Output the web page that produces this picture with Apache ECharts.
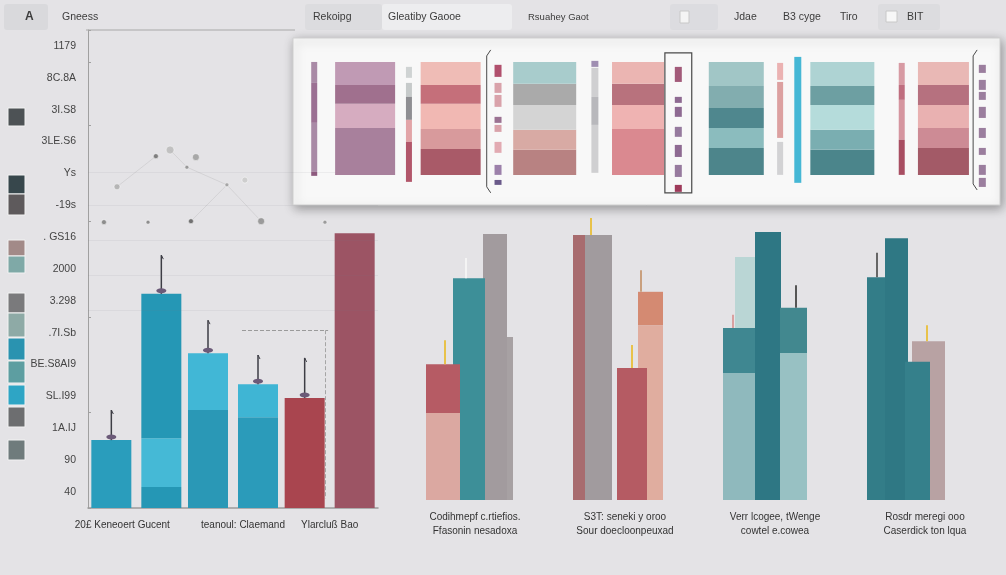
<!DOCTYPE html>
<html><head><meta charset="utf-8">
<script src="https://cdn.jsdelivr.net/npm/echarts@6/dist/echarts.min.js"></script>
<style>html,body{margin:0;padding:0;background:#e4e3e6;}#c{width:1006px;height:575px;}</style>
</head><body><div id="c"></div><script>
// ---------------- DATA ----------------
// left group (bars)
const leftCategories = ['20£ Keneoert Gucent', 'teanoul: Claemand', 'Ylarcluß Bao'];
const leftAxisLabels = ['40', '90', '1A.IJ', 'SL.I99', 'BE.S8AI9', '.7I.Sb', '3.298', '2000', '. GS16', '-19s', 'Ys', '3LE.S6', '3I.S8', '8C.8A', '1179'];
const leftA_bottom = [14.2, 20.5, 23.0];
const leftA_top = [0, 11.9, 0];
const leftB_bottom = [4.4, 19.0, 57.5];
const leftB_mid = [10.2, 6.9, 0];
const leftB_top = [30.2, 0, 0];
const leftWickCat = [0, 0, 1, 1, 2];
const leftWickSlot = [0, 1, 0, 1, 0];
const leftWickBase = [14.2, 44.8, 32.4, 25.9, 23.0];
const leftWickTop = [20.5, 52.9, 39.3, 32.0, 31.4];
// scatter dots in the upper-left
const dotX = [23.4, 28.3, 37.2, 34.1, 10.0, 47.9, 54.1, 5.5, 20.7, 35.5, 59.7, 81.7];
const dotY = [73.6, 74.9, 73.4, 71.3, 67.2, 67.6, 68.6, 59.8, 59.8, 60.0, 60.0, 59.8];
const dotLinks = [[1, 3], [3, 5], [5, 10], [5, 9], [4, 0]];
const gridLineValues = [41.4, 48.7, 56.1, 63.4, 70.3];
// right groups
const rightCategories = ['Codihmepf c.rtiefios.\nFfasonin nesadoxa', 'S3T: seneki y oroo\nSour doecloonpeuxad', 'Verr lcogee, tWenge\ncowtel e.cowea', 'Rosdr meregi ooo\nCaserdick ton lqua'];
const rightBarGroup = [0, 0, 0, 0, 1, 1, 1, 1, 2, 2, 2, 2, 3, 3, 3, 3];
const rightBarValue = [34.7, 56.6, 47.2, 28.9, 56.4, 56.4, 44.3, 28.1, 51.7, 36.6, 57.0, 40.9, 33.8, 47.4, 55.7, 29.4];
const rightBarCap = [0, 0, 0, 18.5, 0, 0, 37.2, 0, 0, 27.0, 0, 31.3, 0, 0, 0, 0];
const rightWickBar = [3, 2, 5, 7, 6, 11, 9, 13, 12];
const rightWickTop = [34.0, 51.5, 60.0, 33.0, 48.9, 45.7, 39.4, 52.6, 37.2];
// inset panel: wide stacked columns (segment heights bottom -> top)
const insetWideX = [10.2, 22.3, 35.6, 48.8, 62.7, 77.7, 92.0];
const insetSeg1 = [34.3, 19.0, 18.3, 33.6, 19.7, 18.3, 19.7];
const insetSeg2 = [17.6, 14.6, 14.6, 17.5, 14.6, 14.6, 14.6];
const insetSeg3 = [13.8, 18.3, 18.2, 15.4, 14.6, 18.2, 16.8];
const insetSeg4 = [16.8, 13.8, 15.4, 16.0, 16.1, 13.9, 14.6];
const insetSeg5 = [0, 16.8, 16.0, 0, 17.5, 17.5, 16.8];
// inset thin columns: [bottom, top] pieces
const insetThinX = [3.0, 16.4, 29.0, 42.7, 54.5, 68.9, 71.4, 86.1, 97.5];
const thinT1 = [[67.2, 82.5], [38.0, 67.2], [2.2, 38.0], [-0.7, 2.2]];
const thinT2 = [[70.9, 78.9], [57.0, 67.2], [40.2, 57.0], [24.1, 40.2], [-5.1, 24.1]];
const thinS1 = [[71.6, 80.4], [59.9, 67.2], [49.7, 58.4], [38.0, 42.4], [31.4, 36.5], [16.1, 24.1], [0, 7.3], [-7.3, -3.7]];
const thinT3 = [[78.9, 83.3], [57.0, 78.2], [36.5, 57.0], [1.5, 36.5]];
const thinS2 = [[67.9, 78.9], [52.6, 57.0], [42.4, 49.7], [27.8, 35.1], [13.1, 21.9], [-1.5, 7.3], [-12.4, -7.3]];
const thinT4 = [[69.4, 81.8], [27.0, 67.9], [0, 24.1]];
const thinT5 = [[-5.8, 86.2]];
const thinT6 = [[65.7, 81.8], [54.8, 65.7], [25.6, 54.8], [0, 25.6]];
const thinS3 = [[74.5, 80.4], [62.1, 69.4], [54.8, 60.6], [41.6, 49.7], [27.0, 34.3], [14.6, 19.7], [0, 7.3], [-8.8, -2.2]];
const insetBrackets = [[27.4, 27.4, 91.3, -13.1], [52.6, 56.4, 89.1, -13.1], [96.2, 96.2, 91.3, -11.0]];

// ---------------- STYLES ----------------
const FONT = "'Liberation Sans','DejaVu Sans Condensed',sans-serif";
const leftA_bottomColors = ['#2a9dbc', '#2a98b6', '#a9454f'];
const leftA_topColors = ['#2a9dbc', '#41b7d6', '#a9454f'];
const leftB_bottomColors = ['#2597b5', '#2b9bba', '#9c5464'];
const leftB_midColors = ['#45b9d6', '#3fb5d4', '#9c5464'];
const leftB_topColors = ['#2597b5', '#2b9bba', '#9c5464'];
const dotColors = ['#666', '#b8b8b8', '#999', '#888', '#aaa', '#999', '#c8c8c8', '#777', '#777', '#555', '#888', '#888'];
const dotSizes = [5, 8, 7, 4, 6, 4, 6, 5, 4, 5, 7, 4];
const rightBarSlots = [[29, 18], [20, 24], [-6, 32], [-32, 34], [-45, 14], [-26.5, 27], [25.5, 25], [7, 30], [-30, 20], [-35, 34], [-7, 26], [18.5, 27], [3.5, 33], [-49, 18], [-28.5, 23], [-7.5, 25]];
const rightBarColors = ['#a7a1a3', '#a29b9e', '#3d8f98', '#dba8a1', '#a86c6f', '#a19b9e', '#e0ad9f', '#b55b63', '#bad6d5', '#8fb9bd', '#2e7784', '#98c1c3', '#b8a2a3', '#337d88', '#2f7884', '#35808b'];
const rightCapColors = [null, null, null, '#b65b64', null, null, '#d48a72', null, null, '#3f8791', null, '#42888f', null, null, null, null];
const rightWickShift = [2, -3, -7.5, 0, -9.5, 2.5, -7, 1, -1.5];
const rightWickColor = ['#e8c24a', '#f4f4f4', '#e8c24a', '#e8c24a', '#c9a07e', '#555', '#d9a0a0', '#666', '#e8c24a'];
const insetWideWidth = [60, 60, 63, 52, 55, 64, 51];
const insetWideColors = [
  ['#a8809c', '#d6acc0', '#a0708e', '#c09ab4'],
  ['#a95a68', '#d89a9c', '#f1b8b3', '#c56f7a', '#efbcb6'],
  ['#b88282', '#d8aaa4', '#d4d4d4', '#aaaaaa', '#a8cccc'],
  ['#da8990', '#efb3b2', '#b8727d', '#ebb5b2'],
  ['#4d858b', '#8bbcbe', '#4f878e', '#82adaf', '#a1c6c6'],
  ['#4b858b', '#7aaeb1', '#b5dcdb', '#6d9fa2', '#aed3d3'],
  ['#a35a67', '#cd8b95', '#e9b1b1', '#b6717f', '#e9b8b5']
];
const insetThinCols = [thinT1, thinT2, thinS1, thinT3, thinS2, thinT4, thinT5, thinT6, thinS3];
const insetThinWidth = [6, 6, 7, 7, 7, 6, 7, 6, 7];
const insetThinColors = [
  ['#a98aa6', '#9b7093', '#a98aa6', '#8d5a7e'],
  ['#cfd3d3', '#c6caca', '#8e8e92', '#e2a4a7', '#b2566a'],
  ['#b1506d', '#d9a2aa', '#d9a2aa', '#9b7292', '#d9a2aa', '#e2aab2', '#9c80aa', '#6a5a8a'],
  ['#9f8eb2', '#cfcfd1', '#b8b8bc', '#cfcfd1'],
  ['#a25a79', '#8e6a92', '#8e6a92', '#967a9e', '#8e6a92', '#977a9e', '#9e3a5a'],
  ['#ebb2b2', '#dca0a0', '#d2d2d4'],
  ['#45b7d5'],
  ['#d79aa3', '#bf6e7f', '#d5959f', '#a84e62'],
  ['#9b7e9e', '#9b7e9e', '#9b7e9e', '#9b7e9e', '#9b7e9e', '#9b7e9e', '#9b7e9e', '#9b7e9e']
];
const swatches = [
  [108, 18, '#4d5255'], [175, 19, '#37474c'], [194, 21, '#5e5a5c'], [240, 16, '#a28a88'], [256, 17, '#7fa9a7'],
  [293, 20, '#7a7a7c'], [313, 24, '#8eaaa6'], [338, 22, '#2a93b0'], [361, 22, '#5d9ea1'], [385, 20, '#2ea5c5'],
  [407, 20, '#6d6e70'], [440, 20, '#6f7b7c']
];
const leftLabelRich = { l0: { padding: [0, 28, 0, 0] }, l1: { padding: [0, 0, 0, 20] }, l2: {} };

// ---------------- BUILD ----------------
const itemsWithColors = (vals, cols) => vals.map((v, i) => ({ value: v, itemStyle: { color: cols[i] } }));

const insetWideItems = [];
const insetWideColorIdx = [];
insetWideX.forEach((x, c) => {
  let acc = 0, n = 0;
  [insetSeg1, insetSeg2, insetSeg3, insetSeg4, insetSeg5].forEach((arr) => {
    const h = arr[c];
    if (h > 0) { insetWideItems.push([x, acc, acc + h, c]); insetWideColorIdx.push(n); acc += h; n++; }
  });
});

const insetThinItems = [];
insetThinCols.forEach((col, c) => col.forEach((p, s) => insetThinItems.push([insetThinX[c], p[0], p[1], c, s])));

const graphics = [];
// toolbar
const tb = (x, w, fill) => graphics.push({ type: 'rect', shape: { x: x, y: 4, width: w, height: 26, r: 3 }, style: { fill: fill }, z: 1 });
tb(4, 44, '#d9d9dc'); tb(305, 77, '#dcdcdf'); tb(382, 130, '#ededef'); tb(670, 48, '#dcdce0'); tb(878, 62, '#dcdcdf');
graphics.push({ type: 'rect', shape: { x: 680, y: 11, width: 9, height: 12 }, style: { fill: '#f4f4f4', stroke: '#c8c8c8' }, z: 2 });
graphics.push({ type: 'rect', shape: { x: 886, y: 11, width: 11, height: 11 }, style: { fill: '#f7f7f7', stroke: '#c8c8c8' }, z: 2 });
const tt = (x, t, size, weight) => graphics.push({ type: 'text', x: x, y: 17, style: { text: t, fill: '#3c3c3c', font: (weight || 'normal') + ' ' + (size || 10.5) + 'px ' + FONT, verticalAlign: 'middle' }, z: 3 });
tt(25, 'A', 12, 'bold'); tt(62, 'Gneess'); tt(313, 'Rekoipg'); tt(388, 'Gleatiby Gaooe'); tt(528, 'Rsuahey Gaot', 9.5);
tt(734, 'Jdae'); tt(783, 'B3 cyge'); tt(840, 'Tiro'); tt(907, 'BIT');
graphics.push({ type: 'line', shape: { x1: 86, y1: 30, x2: 295, y2: 30 }, style: { stroke: '#a8a8a8', lineWidth: 1 }, z: 1 });
// legend swatches
swatches.forEach(s => graphics.push({ type: 'rect', shape: { x: 8, y: s[0], width: 17, height: s[1] }, style: { fill: s[2], stroke: '#f2f2f2', lineWidth: 1 }, z: 1 }));

const chart = echarts.init(document.getElementById('c'));
chart.setOption({
  backgroundColor: '#e4e3e6',
  animation: false,
  graphic: graphics,
  grid: [
    { left: 88, right: 628, top: 30, bottom: 67 },
    { left: 88, right: 628, top: 30, bottom: 67 },
    { left: 400, right: 6, top: 30, bottom: 75 },
    { left: 293, right: 6, top: 38, height: 167, show: true, backgroundColor: '#f8f8f8', borderColor: '#cfcfcf', borderWidth: 1, shadowBlur: 10, shadowColor: 'rgba(0,0,0,0.35)', shadowOffsetX: 2, shadowOffsetY: 3, z: 5 }
  ],
  xAxis: [
    { type: 'category', gridIndex: 0, data: leftCategories, axisLine: { lineStyle: { color: '#9a9a9a', width: 1.5 } }, axisTick: { show: false },
      axisLabel: { interval: 0, color: '#333', fontSize: 10, fontFamily: FONT, margin: 12, rich: leftLabelRich, formatter: (v, i) => '{l' + i + '|' + v + '}' } },
    { type: 'value', gridIndex: 1, min: 0, max: 100, show: false },
    { type: 'category', gridIndex: 2, data: rightCategories, axisLine: { show: false }, axisTick: { show: false }, axisLabel: { interval: 0, color: '#333', fontSize: 10, lineHeight: 14, fontFamily: FONT, margin: 10 } },
    { type: 'value', gridIndex: 3, min: 0, max: 100, show: false }
  ],
  yAxis: [
    { type: 'value', gridIndex: 0, min: 0, max: 100, show: false },
    { type: 'category', gridIndex: 0, data: leftAxisLabels, position: 'left', axisLine: { show: true, lineStyle: { color: '#a0a0a0' } }, axisTick: { show: true, inside: true, length: 3, interval: 2, lineStyle: { color: '#a0a0a0' } }, axisLabel: { interval: 0, color: '#444', fontSize: 10.5, fontFamily: FONT, margin: 12 }, splitLine: { show: false } },
    { type: 'value', gridIndex: 1, min: 0, max: 100, show: false },
    { type: 'value', gridIndex: 2, min: 0, max: 100, show: false },
    { type: 'value', gridIndex: 3, min: -22, max: 100, show: false }
  ],
  series: [
    // faint guides + dots
    { type: 'scatter', xAxisIndex: 1, yAxisIndex: 2, z: 1, silent: true,
      data: dotX.map((x, i) => [x, dotY[i]]),
      symbolSize: (v, p) => dotSizes[p.dataIndex],
      itemStyle: { color: p => dotColors[p.dataIndex], borderColor: 'rgba(255,255,255,0.6)', borderWidth: 1 },
      markLine: { silent: true, symbol: 'none', label: { show: false },
        lineStyle: { color: 'rgba(120,120,130,0.09)', type: 'solid', width: 1 },
        data: gridLineValues.map(v => ({ yAxis: v })).concat([
          [{ coord: [53.1, 37.2], lineStyle: { color: '#9a9a9a', type: 'dashed', width: 1 } }, { coord: [82.8, 37.2] }],
          [{ coord: [81.7, 37.2], lineStyle: { color: '#a5a5a5', type: 'dashed', width: 1 } }, { coord: [81.7, 2] }]
        ]) } },
    { type: 'lines', coordinateSystem: 'cartesian2d', xAxisIndex: 1, yAxisIndex: 2, z: 1, silent: true,
      lineStyle: { color: 'rgba(120,120,120,0.3)', width: 1 },
      data: dotLinks.map(l => ({ coords: [[dotX[l[0]], dotY[l[0]]], [dotX[l[1]], dotY[l[1]]]] })) },
    // left bars
    { type: 'bar', xAxisIndex: 0, yAxisIndex: 0, stack: 'a', barWidth: 40, barGap: '25%', data: itemsWithColors(leftA_bottom, leftA_bottomColors), z: 3 },
    { type: 'bar', xAxisIndex: 0, yAxisIndex: 0, stack: 'a', barWidth: 40, barGap: '25%', data: itemsWithColors(leftA_top, leftA_topColors), z: 3 },
    { type: 'bar', xAxisIndex: 0, yAxisIndex: 0, stack: 'b', barWidth: 40, barGap: '25%', data: itemsWithColors(leftB_bottom, leftB_bottomColors), z: 3 },
    { type: 'bar', xAxisIndex: 0, yAxisIndex: 0, stack: 'b', barWidth: 40, barGap: '25%', data: itemsWithColors(leftB_mid, leftB_midColors), z: 3 },
    { type: 'bar', xAxisIndex: 0, yAxisIndex: 0, stack: 'b', barWidth: 40, barGap: '25%', data: itemsWithColors(leftB_top, leftB_topColors), z: 3 },
    // left wicks
    { type: 'custom', xAxisIndex: 0, yAxisIndex: 0, z: 4, silent: true,
      data: leftWickCat.map((c, i) => [c, leftWickBase[i], leftWickTop[i]]),
      renderItem: (params, api) => {
        const i = params.dataIndex;
        const b = api.coord([api.value(0), api.value(1)]);
        const t = api.coord([api.value(0), api.value(2)]);
        const x = b[0] + (leftWickSlot[i] ? 25 : -25);
        return { type: 'group', children: [
          { type: 'line', shape: { x1: x, y1: b[1], x2: x, y2: t[1] }, style: { stroke: '#3d3d45', lineWidth: 1.5 } },
          { type: 'line', shape: { x1: x, y1: t[1], x2: x + 2, y2: t[1] + 4 }, style: { stroke: '#3d3d45', lineWidth: 1 } },
          { type: 'ellipse', shape: { cx: x, cy: b[1] - 3, rx: 5, ry: 2.5 }, style: { fill: '#6b5a78' } }
        ] };
      } },
    // right bars
    { type: 'custom', xAxisIndex: 2, yAxisIndex: 3, z: 3, encode: { x: 0, y: 1 },
      data: rightBarGroup.map((g, i) => [g, rightBarValue[i], rightBarCap[i]]),
      renderItem: (params, api) => {
        const i = params.dataIndex;
        const g = api.value(0), v = api.value(1), cap = api.value(2);
        const base = api.coord([g, 0]);
        const top = api.coord([g, v]);
        const s = rightBarSlots[i];
        const x = base[0] + s[0] - s[1] / 2;
        const kids = [];
        if (cap > 0) {
          const c = api.coord([g, cap]);
          kids.push({ type: 'rect', shape: { x: x, y: c[1], width: s[1], height: base[1] - c[1] }, style: { fill: rightBarColors[i] } });
          kids.push({ type: 'rect', shape: { x: x, y: top[1], width: s[1], height: c[1] - top[1] }, style: { fill: rightCapColors[i] } });
        } else {
          kids.push({ type: 'rect', shape: { x: x, y: top[1], width: s[1], height: base[1] - top[1] }, style: { fill: rightBarColors[i] } });
        }
        return { type: 'group', children: kids };
      } },
    // right wicks
    { type: 'custom', xAxisIndex: 2, yAxisIndex: 3, z: 4, silent: true,
      data: rightWickBar.map((b, k) => [rightBarGroup[b], rightBarValue[b], rightWickTop[k]]),
      renderItem: (params, api) => {
        const k = params.dataIndex;
        const b = api.coord([api.value(0), api.value(1)]);
        const t = api.coord([api.value(0), api.value(2)]);
        const x = b[0] + rightBarSlots[rightWickBar[k]][0] + rightWickShift[k];
        return { type: 'line', shape: { x1: x, y1: b[1], x2: x, y2: t[1] }, style: { stroke: rightWickColor[k], lineWidth: 2 } };
      } },
    // inset wide stacked columns
    { type: 'custom', xAxisIndex: 3, yAxisIndex: 4, z: 6, silent: true,
      data: insetWideItems,
      renderItem: (params, api) => {
        const k = params.dataIndex;
        const c = api.value(3);
        const b = api.coord([api.value(0), api.value(1)]);
        const t = api.coord([api.value(0), api.value(2)]);
        const w = insetWideWidth[c];
        return { type: 'rect', shape: { x: b[0] - w / 2, y: t[1], width: w, height: b[1] - t[1] }, style: { fill: insetWideColors[c][insetWideColorIdx[k]] } };
      } },
    // inset thin columns
    { type: 'custom', xAxisIndex: 3, yAxisIndex: 4, z: 6, silent: true,
      data: insetThinItems,
      renderItem: (params, api) => {
        const c = api.value(3), s = api.value(4);
        const b = api.coord([api.value(0), api.value(1)]);
        const t = api.coord([api.value(0), api.value(2)]);
        const w = insetThinWidth[c];
        return { type: 'rect', shape: { x: b[0] - w / 2, y: t[1], width: w, height: b[1] - t[1] }, style: { fill: insetThinColors[c][s] } };
      } },
    // inset brackets
    { type: 'custom', xAxisIndex: 3, yAxisIndex: 4, z: 6, silent: true,
      data: insetBrackets,
      renderItem: (params, api) => {
        const k = params.dataIndex;
        const p0 = api.coord([api.value(0), api.value(2)]);
        const p1 = api.coord([api.value(1), api.value(3)]);
        if (k === 1) {
          return { type: 'rect', shape: { x: p0[0], y: p0[1], width: p1[0] - p0[0], height: p1[1] - p0[1] }, style: { fill: 'none', stroke: '#4a4a4a', lineWidth: 1.2 } };
        }
        const x = p0[0];
        return { type: 'polyline', shape: { points: [[x + 4, p0[1]], [x, p0[1] + 6], [x, p1[1] - 6], [x + 4, p1[1]]] }, style: { fill: 'none', stroke: '#4a4a4a', lineWidth: 1 } };
      } }
  ]
});
</script></body></html>
